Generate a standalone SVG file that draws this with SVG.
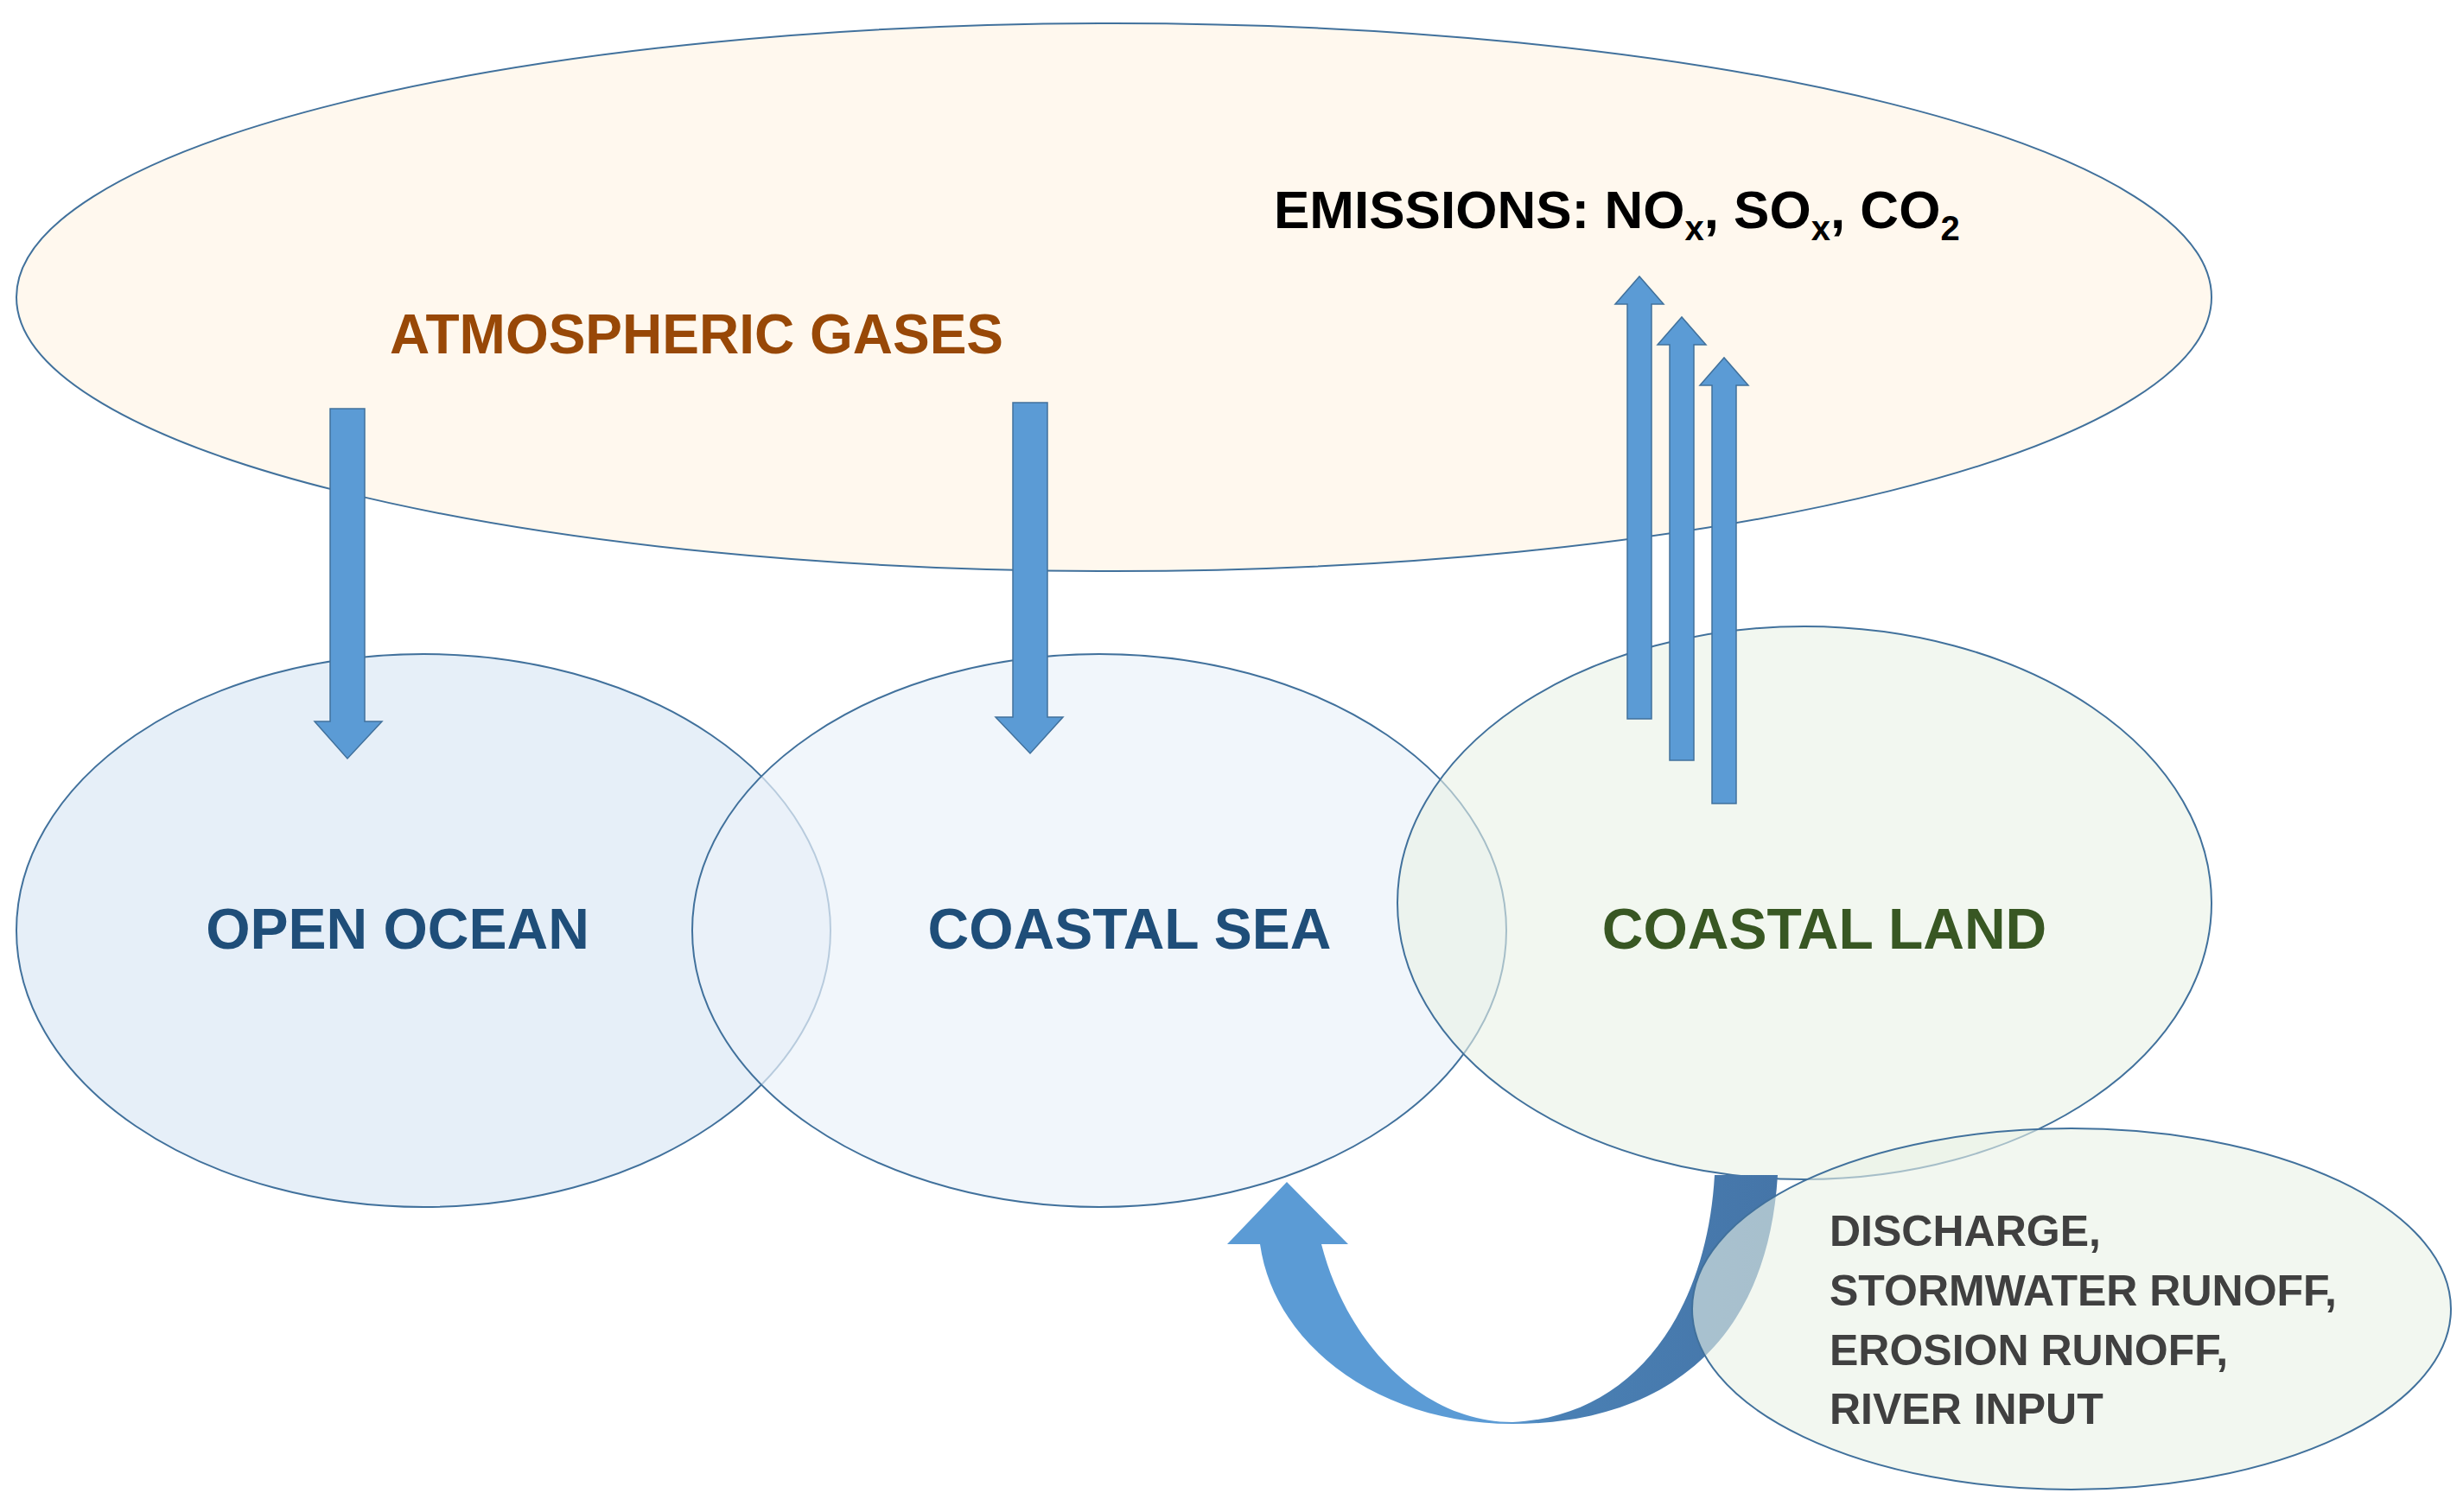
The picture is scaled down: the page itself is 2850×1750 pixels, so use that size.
<svg xmlns="http://www.w3.org/2000/svg" width="2850" height="1750" viewBox="0 0 2850 1750">
<style>
.e{stroke:#41719c;stroke-width:2}
.t{font-family:"Liberation Sans",Arial,sans-serif;font-weight:bold}
.a{fill:#5b9bd5;stroke:#41719c;stroke-width:1.5}
</style>
<defs>
<linearGradient id="g" x1="0" x2="1" y1="0" y2="0">
<stop offset="0.5" stop-color="#5b9bd5"/><stop offset="0.6" stop-color="#4a80b4"/><stop offset="1" stop-color="#4575a8"/>
</linearGradient>
</defs>
<rect width="2850" height="1750" fill="#fff"/>
<g id="atmosphere"><ellipse class="e" cx="1289" cy="344" rx="1270" ry="317" fill="#fff8ee"/>
<text class="t" x="806" y="409" font-size="64" fill="#984807" text-anchor="middle">ATMOSPHERIC GASES</text>
<text class="t" x="1474" y="264" font-size="62" fill="#000">EMISSIONS: NO<tspan font-size="40" dy="14">x</tspan><tspan dy="-14">, SO</tspan><tspan font-size="40" dy="14">x</tspan><tspan dy="-14">, CO</tspan><tspan font-size="40" dy="14">2</tspan></text></g>
<g id="open-ocean"><ellipse class="e" cx="490" cy="1077" rx="471" ry="320" fill="#dce8f5" fill-opacity="0.7"/></g>
<g id="coastal-sea"><ellipse class="e" cx="1272" cy="1077" rx="471" ry="320" fill="#ebf2fa" fill-opacity="0.7"/></g>
<g id="coastal-land"><ellipse class="e" cx="2088" cy="1045" rx="471" ry="320" fill="#eaf2e6" fill-opacity="0.6"/></g>
<g id="labels">
<text class="t" x="460" y="1098" font-size="66" fill="#1f4e79" text-anchor="middle">OPEN OCEAN</text>
<text class="t" x="1307" y="1098" font-size="66" fill="#1f4e79" text-anchor="middle">COASTAL SEA</text>
<text class="t" x="2111" y="1098" font-size="66" fill="#385723" text-anchor="middle">COASTAL LAND</text>
</g>
<g id="connectors">
<path class="a" d="M382,473 H422 V835 H442 L402,878 L364,835 H382 Z"/>
<path class="a" d="M1172,466 H1212 V830 H1230 L1192,872 L1152,830 H1172 Z"/>
<path class="a" d="M1883,832 V352 H1869 L1897,320 L1925,352 H1911 V832 Z"/>
<path class="a" d="M1932,880 V399 H1918 L1946,367 L1974,399 H1960 V880 Z"/>
<path class="a" d="M1981,930 V446 H1967 L1995,414 L2023,446 H2009 V930 Z"/>
<path d="M2057,1360 C2045,1560 1920,1648 1750,1648 C1600,1648 1475,1560 1458,1440 L1420,1440 L1489,1368 L1560,1440 L1529,1440 C1560,1560 1650,1646 1750,1646 C1890,1640 1975,1520 1984,1360 Z" fill="url(#g)"/>
</g>
<g id="inputs"><ellipse class="e" cx="2397" cy="1515" rx="439" ry="209" fill="#eaf2e6" fill-opacity="0.6"/>
<text class="t" font-size="50" fill="#404040"><tspan x="2117" y="1442">DISCHARGE,</tspan><tspan x="2117" y="1511">STORMWATER RUNOFF,</tspan><tspan x="2117" y="1580">EROSION RUNOFF,</tspan><tspan x="2117" y="1648">RIVER INPUT</tspan></text></g>
</svg>
